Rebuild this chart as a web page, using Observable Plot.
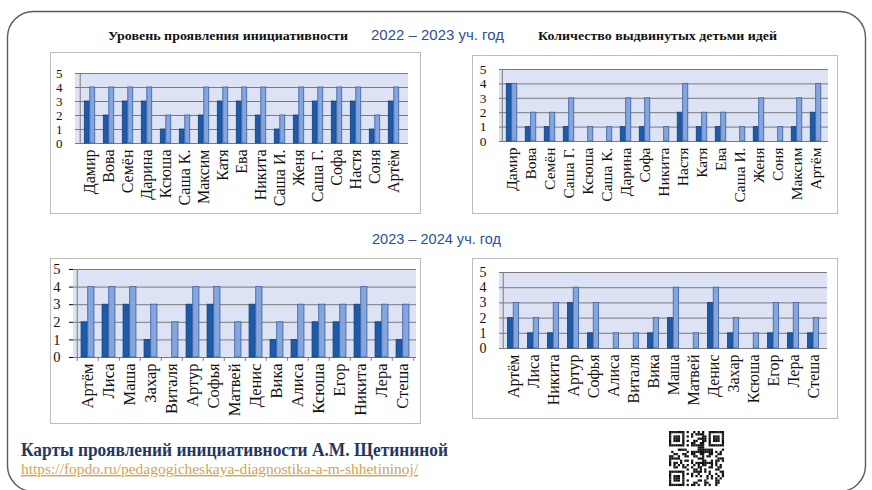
<!DOCTYPE html>
<html><head><meta charset="utf-8">
<script src="https://cdn.jsdelivr.net/npm/d3@7"></script>
<script src="https://cdn.jsdelivr.net/npm/@observablehq/plot@0.6"></script>
<style>
body{margin:0;background:#fff;}
#slide{position:relative;width:872px;height:490px;overflow:hidden;background:#fff;}
.chart{position:absolute;}
#bg{position:absolute;left:0;top:0;}
</style></head><body><div id="slide"></div>
<script>
// 2022–2023: level of initiative (dark = start of year, light = end of year)
const names1 = ["Дамир","Вова","Семён","Дарина","Ксюша","Саша К.","Максим","Катя","Ева","Никита","Саша И.","Женя","Саша Г.","Софа","Настя","Соня","Артём"];
const level1Start = [3,2,3,3,1,1,2,3,3,2,1,2,3,3,3,1,3];
const level1End   = [4,4,4,4,2,2,4,4,4,4,2,4,4,4,4,2,4];
// 2022–2023: number of ideas
const names2 = ["Дамир","Вова","Семён","Саша Г.","Ксюша","Саша К.","Дарина","Софа","Никита","Настя","Катя","Ева","Саша И.","Женя","Соня","Максим","Артём"];
const ideas1Start = [4,1,1,1,0,0,1,1,0,2,1,1,0,1,0,1,2];
const ideas1End   = [4,2,2,3,1,1,3,3,1,4,2,2,1,3,1,3,4];
// 2023–2024: level of initiative
const names3 = ["Артём","Лиса","Маша","Захар","Виталя","Артур","Софья","Матвей","Денис","Вика","Алиса","Ксюша","Егор","Никита","Лера","Стеша"];
const level2Start = [2,3,3,1,0,3,3,0,3,1,1,2,2,3,2,1];
const level2End   = [4,4,4,3,2,4,4,2,4,2,3,3,3,4,3,3];
// 2023–2024: number of ideas
const names4 = ["Артём","Лиса","Никита","Артур","Софья","Алиса","Виталя","Вика","Маша","Матвей","Денис","Захар","Ксюша","Егор","Лера","Стеша"];
const ideas2Start = [2,1,1,3,1,0,0,1,2,0,3,1,0,1,1,1];
const ideas2End   = [3,2,3,4,3,1,1,2,4,1,4,2,1,3,3,2];
const yTicks = [0,1,2,3,4,5];

const slide = document.getElementById("slide");
const NS = "http://www.w3.org/2000/svg";
const bg = document.createElementNS(NS, "svg");
bg.setAttribute("id","bg"); bg.setAttribute("width",872); bg.setAttribute("height",490);
slide.appendChild(bg);
function el(tag, attrs, text, parent){
  const e = document.createElementNS(NS, tag);
  for (const k in attrs) e.setAttribute(k, attrs[k]);
  if (text != null) e.textContent = text;
  (parent || bg).appendChild(e); return e;
}
// slide frame
el("rect",{x:7.5,y:11.5,width:858,height:480,rx:26,ry:26,fill:"#fff",stroke:"#5a5a5a","stroke-width":1.4});
// chart boxes
const boxes = [[50,52,370,161],[472,55,365,158],[50,258,370,165],[472,258,365,160]];
for (const [x,y,w,h] of boxes) el("rect",{x:x+0.5,y:y+0.5,width:w,height:h,fill:"#fff",stroke:"#bdbdbd","stroke-width":1});
// headers
el("text",{x:108,y:40,"font-family":"Liberation Serif","font-weight":"bold","font-size":13,textLength:240,lengthAdjust:"spacingAndGlyphs",fill:"#111"},"Уровень проявления инициативности");
el("text",{x:371,y:40,"font-family":"Liberation Sans","font-size":14,textLength:133,lengthAdjust:"spacingAndGlyphs",fill:"#2d4e9c"},"2022 – 2023 уч. год");
el("text",{x:538,y:40,"font-family":"Liberation Serif","font-weight":"bold","font-size":13,textLength:239,lengthAdjust:"spacingAndGlyphs",fill:"#111"},"Количество выдвинутых детьми идей");
el("text",{x:372,y:244,"font-family":"Liberation Sans","font-size":14,textLength:129,lengthAdjust:"spacingAndGlyphs",fill:"#2d4e9c"},"2023 – 2024 уч. год");
// footer
el("text",{x:21,y:456,"font-family":"Liberation Serif","font-weight":"bold","font-size":18,textLength:427,lengthAdjust:"spacingAndGlyphs",fill:"#1f3864"},"Карты проявлений инициативности А.М. Щетининой");
el("text",{x:21,y:474,"font-family":"Liberation Serif","font-size":14,textLength:397,lengthAdjust:"spacingAndGlyphs",fill:"#d4a34c","text-decoration":"underline"},"https://fopdo.ru/pedagogicheskaya-diagnostika-a-m-shhetininoj/");
// QR-like decoration
(function(){
  const ox=669, oy=431, n=25, m=2.2;
  const g = el("g",{fill:"#111"});
  function sq(i,j){el("rect",{x:ox+i*m,y:oy+j*m,width:m+0.05,height:m+0.05},null,g);}
  function finder(ci,cj){for(let i=0;i<7;i++)for(let j=0;j<7;j++){const e=Math.max(Math.abs(i-3),Math.abs(j-3));if(e!==2)sq(ci+i,cj+j);}}
  finder(0,0);finder(n-7,0);finder(0,n-7);
  for(let i=0;i<n;i++)for(let j=0;j<n;j++){
    const inF=(i<8&&j<8)||(i>=n-8&&j<8)||(i<8&&j>=n-8);
    if(inF)continue;
    const h=((i*131+j*71+i*j*17+(i^j)*29)%11);
    if(h<5) sq(i,j);
  }
})();

function chart({names, a, b, left, top, width, height, ml, mr, mt, mb, frac, edgeTicks, fs, yfs}){
  const bw = (width - ml - mr) / names.length;
  const w = bw * frac, half = bw / 2;
  const A = names.map((n,i)=>({name:n, v:a[i]})).filter(d=>d.v>0);
  const B = names.map((n,i)=>({name:n, v:b[i]})).filter(d=>d.v>0);
  const marks = [
    Plot.rect([0], {y1:0, y2:5, fill:"#dde3f4"}),
    Plot.ruleY(yTicks, {stroke:"#7a7a7a", strokeWidth:1}),
    Plot.ruleX([names[0]], {dx:-half, y1:0, y2:5, stroke:"#7a7a7a"}),
    Plot.barY(A, {x:"name", y:"v", fill:"#1d5aa8", stroke:"#143f7a", strokeWidth:0.8, insetLeft:half-w, insetRight:half}),
    Plot.barY(B, {x:"name", y:"v", fill:"#86a5db", stroke:"#3f68ad", strokeWidth:0.9, insetLeft:half, insetRight:half-w})
  ];
  if (edgeTicks) {
    marks.push(Plot.ruleX(names, {dx:-half, y1:0, y2:-0.22, stroke:"#7a7a7a"}));
    marks.push(Plot.ruleX([names[names.length-1]], {dx:half, y1:0, y2:-0.22, stroke:"#7a7a7a"}));
  }
  const p = Plot.plot({
    width, height, marginLeft:ml, marginRight:mr, marginTop:mt, marginBottom:mb,
    style:{background:"transparent", overflow:"visible"},
    x:{domain:names, padding:0, label:null, tickRotate:-90, tickSize:0, tickPadding:6},
    y:{domain:[0,5], ticks:yTicks, tickFormat:d=>String(d), label:null, tickSize: edgeTicks ? 4 : 0, tickPadding: edgeTicks ? 9 : 13},
    marks
  });
  p.classList.add("chart");
  p.style.left = left + "px"; p.style.top = top + "px";
  p.querySelectorAll("g[aria-label='x-axis tick label'] text, g[aria-label='x-axis'] text").forEach(t=>{
    t.style.fontFamily = "'Liberation Serif', serif"; t.style.fontSize = fs + "px"; t.setAttribute("fill","#111");
  });
  p.querySelectorAll("g[aria-label='y-axis tick label'] text, g[aria-label='y-axis'] text").forEach(t=>{
    t.style.fontFamily = "'Liberation Serif', serif"; t.style.fontSize = yfs + "px"; t.setAttribute("fill","#111");
  });
  slide.appendChild(p);
}

chart({names:names1, a:level1Start, b:level1End, left:50, top:52, width:370, height:161, ml:25, mr:12, mt:21, mb:70, frac:0.28, fs:16, yfs:13});
chart({names:names2, a:ideas1Start, b:ideas1End, left:472, top:55, width:365, height:158, ml:27, mr:9, mt:14, mb:72, frac:0.28, fs:15.5, yfs:13.5});
chart({names:names3, a:level2Start, b:level2End, left:50, top:258, width:370, height:165, ml:23, mr:4, mt:11, mb:66, frac:0.31, edgeTicks:true, fs:16.5, yfs:14.5});
chart({names:names4, a:ideas2Start, b:ideas2End, left:472, top:258, width:365, height:160, ml:27, mr:10, mt:14, mb:70, frac:0.28, fs:16, yfs:14});
</script>
</body></html>
